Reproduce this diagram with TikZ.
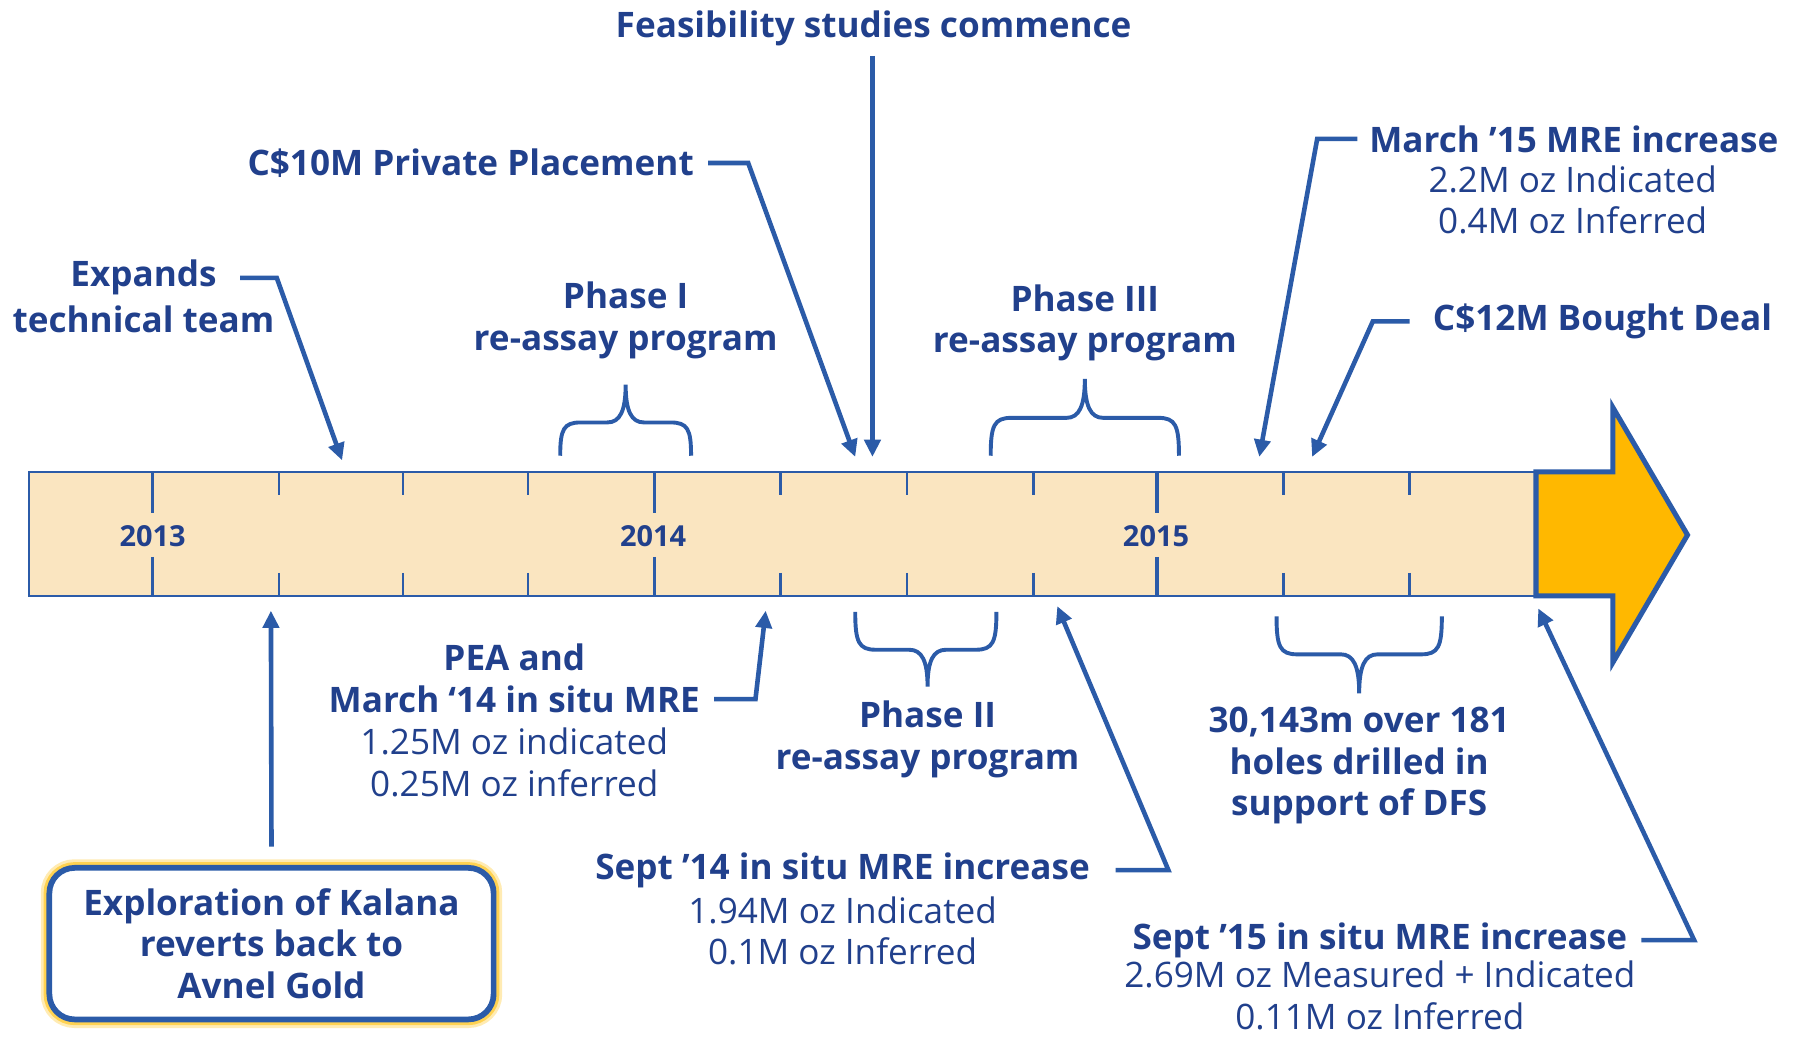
\documentclass[tikz,border=0pt]{standalone}
\usepackage{fontspec}
\setmainfont{Open Sans}
\usetikzlibrary{arrows.meta}
\definecolor{tblue}{RGB}{33,64,140}
\definecolor{lblue}{RGB}{43,91,168}
\definecolor{barfill}{RGB}{250,229,192}
\definecolor{arrfill}{RGB}{255,184,0}
\definecolor{glowc}{RGB}{255,206,64}
\newcommand{\tlbrace}[6]{% x1, x2, xm, end y, bar y, tip y
  \draw[brc] (#1,#4) .. controls (#1,{#5+0.2*(#4-#5)}) and ({#1+3},#5) .. ({#1+18},#5)
    -- ({#3-16},#5) .. controls ({#3-5},#5) and (#3,{#5+0.3*(#6-#5)}) .. (#3,#6)
    .. controls (#3,{#5+0.3*(#6-#5)}) and ({#3+5},#5) .. ({#3+16},#5)
    -- ({#2-18},#5) .. controls ({#2-3},#5) and (#2,{#5+0.2*(#4-#5)}) .. (#2,#4);}
\begin{document}
\begin{tikzpicture}[x=0.5pt,y=-0.5pt,
  ttl/.style={text=tblue, align=center, inner sep=0pt, font=\bfseries\fontsize{15.3}{18}\selectfont},
  det/.style={text=tblue, align=center, inner sep=0pt, font=\fontsize{15.3}{18}\selectfont},
  yr/.style={text=tblue, inner sep=0pt, font=\bfseries\fontsize{12.6}{14}\selectfont},
  conn/.style={draw=lblue, line width=2pt, line join=miter, -{Triangle[length=7.5pt,width=7pt]}},
  brc/.style={draw=lblue, line width=1.7pt},
  tick/.style={draw=lblue, line width=1.2pt}]
\useasboundingbox (0,0) rectangle (1568,904);
% timeline bar
\path[fill=barfill, draw=lblue, line width=1pt] (25,411) rectangle (1338,519);
\foreach \x in {243,351,460,680,790,900,1118,1228}{
  \draw[tick] (\x,411) -- (\x,431);
  \draw[tick] (\x,499) -- (\x,519);}
\foreach \x in {133,570,1008}{
  \draw[tick, line width=1.5pt] (\x,411) -- (\x,447);
  \draw[tick, line width=1.5pt] (\x,485) -- (\x,519);}
\node[yr] (y13) at (133,467) {2013};
\node[yr] (y14) at (569,467) {2014};
\node[yr] (y15) at (1007,467) {2015};
% big arrow
\draw[fill=arrfill, draw=lblue, line width=2.2pt, line join=miter]
  (1338,411) -- (1405,411) -- (1405,355) -- (1470,466) -- (1405,577) -- (1405,519) -- (1338,519) -- cycle;
% targets on the bar
\coordinate (tFeas) at (760,398);
\coordinate (tCpp) at (745,398);
\coordinate (tExp) at (298,401);
\coordinate (tM15) at (1097,398);
\coordinate (tC12) at (1143,398);
\coordinate (tPea) at (667,532);
\coordinate (tS14) at (921,528);
\coordinate (tS15) at (1340,530);
\coordinate (tBox) at (236,532);
% top labels
\node[ttl] (feas) at (761,25) {Feasibility studies commence};
\node[ttl] (cpp) at (410,142) {C\$10M Private Placement};
\node[ttl] (exp1) at (125,242) {Expands};
\node[ttl] (exp2) at (125,278) {technical team};
\node[ttl] (ph1) at (545,279) {Phase I\\re-assay program};
\node[ttl] (ph3) at (945,281) {Phase III\\re-assay program};
\node[ttl] (m15) at (1371,121) {March ’15 MRE increase};
\node[det] (m15d) at (1370,174) {2.2M oz Indicated\\0.4M oz Inferred};
\node[ttl] (c12) at (1396,280) {C\$12M Bought Deal};
% bottom labels
\node[ttl] (pea1) at (448,573) {PEA and};
\node[ttl] (pea2) at (448,609) {March ‘14 in situ MRE};
\node[det] (pead) at (448,664) {1.25M oz indicated\\0.25M oz inferred};
\node[ttl] (ph2) at (808,644) {Phase II\\re-assay program};
\node[ttl] (s14) at (734,758) {Sept ’14 in situ MRE increase};
\node[det] (s14d) at (734,811) {1.94M oz Indicated\\0.1M oz Inferred};
\node[ttl] (dfs) at (1184,667) {30,143m over 181\\holes drilled in\\support of DFS};
\node[ttl] (s15) at (1202,819) {Sept ’15 in situ MRE increase};
\node[det] (s15d) at (1202,867) {2.69M oz Measured + Indicated\\0.11M oz Inferred};
% box
\draw[glowc, line width=7.5pt, opacity=0.4, rounded corners=11pt] (43,756) rectangle (430,888);
\draw[glowc, line width=5pt, opacity=0.85, rounded corners=11pt] (43,756) rectangle (430,888);
\node[ttl, draw=lblue, line width=2.5pt, rounded corners=11pt, minimum width=387*0.5pt, minimum height=132*0.5pt, fill=white] (box) at (236.5,822) {Exploration of Kalana\\reverts back to\\Avnel Gold};
% braces
\tlbrace{488}{602}{545}{397}{368}{335}
\tlbrace{863}{1027}{945}{397}{364}{330}
\tlbrace{745}{868}{808}{533}{566}{598}
\tlbrace{1112}{1256}{1184}{537}{570}{604}
% connectors
\draw[conn] ([yshift=-4pt]feas.south -| tFeas) -- (tFeas);
\draw[conn] ([xshift=6pt]cpp.east) -- ++(35,0) -- (tCpp);
\draw[conn] ([xshift=10pt]exp1.east) -- ++(32,0) -- (tExp);
\draw[conn] ([xshift=-5pt]m15.west) -- ++(-35,0) -- (tM15);
\draw[conn] ([xshift=-10pt]c12.west) -- ++(-32,0) -- (tC12);
\draw[conn] ([xshift=6pt]pea2.east) -- ++(36,0) -- (tPea);
\draw[conn] ([xshift=11pt]s14.east) -- ++(46,0) -- (tS14);
\draw[conn] ([xshift=6pt]s15.east) -- ++(46,0) -- (tS15);
\draw[conn] ([yshift=8pt]box.north) -- (tBox);
\end{tikzpicture}
\end{document}
